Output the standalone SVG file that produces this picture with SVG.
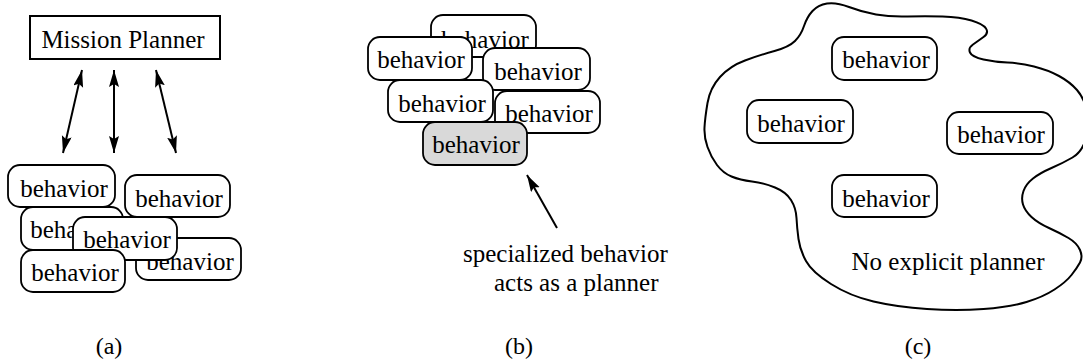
<svg xmlns="http://www.w3.org/2000/svg" width="1083" height="362" viewBox="0 0 1083 362" font-family="'Liberation Serif', 'DejaVu Serif', serif">
<style>
.b{fill:#fff;stroke:#000;stroke-width:1.8}
.g{fill:#d9d9d9;stroke:#000;stroke-width:1.8}
text{font-family:'Liberation Serif','DejaVu Serif',serif}
.t{font-size:25px;fill:#000;text-anchor:middle}
.s{font-size:25px;fill:#000;text-anchor:start}
.l{font-size:24px;fill:#000;text-anchor:middle}
.c{stroke:#000;stroke-width:2;fill:none}
</style>
<defs>
<marker id="ah" markerUnits="userSpaceOnUse" markerWidth="18" markerHeight="11" refX="17" refY="5" orient="auto-start-reverse">
<path d="M0,0 L17,5 L0,10 L3,5 z" fill="#000"/>
</marker>
</defs>
<rect width="1083" height="362" fill="#fff"/>

<g id="mission-planner">
<rect x="30" y="16" width="190" height="43" fill="#fff" stroke="#000" stroke-width="2"/>
<text class="t" x="123" y="48" font-family="Liberation Serif">Mission Planner</text>
</g>

<g id="connectors">
<line class="c" x1="82" y1="70" x2="63" y2="153" marker-start="url(#ah)" marker-end="url(#ah)"/>
<line class="c" x1="114" y1="70" x2="114" y2="153" marker-start="url(#ah)" marker-end="url(#ah)"/>
<line class="c" x1="156" y1="70" x2="176" y2="153" marker-start="url(#ah)" marker-end="url(#ah)"/>
<line class="c" x1="557" y1="228" x2="527" y2="175" marker-end="url(#ah)"/>
</g>

<g id="a-b5"><rect class="b" x="136" y="238" width="105" height="42" rx="12"/><text class="t" x="190" y="270">behavior</text></g>
<g id="a-b3"><rect class="b" x="21" y="207" width="102" height="43" rx="12"/><text class="t" x="74" y="238">behavior</text></g>
<g id="a-b1"><rect class="b" x="8" y="165" width="107" height="42" rx="12"/><text class="t" x="64" y="197">behavior</text></g>
<g id="a-b2"><rect class="b" x="125" y="175" width="105" height="42" rx="12"/><text class="t" x="179" y="207">behavior</text></g>
<g id="a-b4"><rect class="b" x="73" y="217" width="104" height="43" rx="12"/><text class="t" x="127" y="248">behavior</text></g>
<g id="a-b6"><rect class="b" x="21" y="250" width="104" height="42" rx="12"/><text class="t" x="75" y="281">behavior</text></g>

<g id="b-a"><rect class="b" x="431" y="15" width="105" height="42" rx="12"/><text class="t" x="485" y="48">behavior</text></g>
<g id="b-b"><rect class="b" x="368" y="37" width="104" height="43" rx="12"/><text class="t" x="421" y="68">behavior</text></g>
<g id="b-c"><rect class="b" x="483" y="48" width="107" height="42" rx="12"/><text class="t" x="538" y="80">behavior</text></g>
<g id="b-d"><rect class="b" x="388" y="80" width="105" height="42" rx="12"/><text class="t" x="442" y="112">behavior</text></g>
<g id="b-e"><rect class="b" x="495" y="91" width="105" height="42" rx="12"/><text class="t" x="549" y="122">behavior</text></g>
<g id="b-f"><rect class="g" x="423" y="122" width="104" height="43" rx="12"/><text class="t" x="476" y="153">behavior</text></g>

<g id="b-note">
<text class="s" x="463" y="262">specialized behavior</text>
<text class="s" x="494" y="291">acts as a planner</text>
</g>

<g id="c-blob">
<path d="M704.5,127.5 Q705,118 707.5,103 Q710,88 720,77 Q730,66 745,60.5 Q760,55 774.5,51 Q789,47 795,41 Q801,35 804,26 Q807,17 812.5,11 Q818,5 827,3.5 Q836,2 849,7 Q862,12 876,14.5 Q890,17 907.5,16.5 Q925,16 942.5,16.5 Q960,17 971.5,20.5 Q983,24 986,28.5 Q989,33 983.5,37 Q978,41 973,44.5 Q968,48 970,52.5 Q972,57 983.5,59.5 Q995,62 1007.5,62.5 Q1020,63 1034,66.5 Q1048,70 1059,76 Q1070,82 1077,90 Q1084,98 1087,111.5 Q1090,125 1086,138.5 Q1082,152 1072.5,157.5 Q1063,163 1051.5,168 Q1040,173 1033,178.5 Q1026,184 1023.5,191 Q1021,198 1023,204.5 Q1025,211 1031.5,217 Q1038,223 1049,228 Q1060,233 1068.5,238 Q1077,243 1080,250 Q1083,257 1080,262.5 Q1077,268 1071.5,275 Q1066,282 1054.5,289.5 Q1043,297 1026.5,302 Q1010,307 983.5,309 Q957,311 927,309 Q897,307 873.5,301.5 Q850,296 831,284 Q812,272 806,261 Q800,250 798.5,239 Q797,228 796.5,218 Q796,208 791,200 Q786,192 775,187.5 Q764,183 752,181.5 Q740,180 731.5,176.5 Q723,173 717,165 Q711,157 707.5,147 Q704,137 704.5,127.5 Z" fill="none" stroke="#000" stroke-width="2"/>
<text class="t" x="948" y="270">No explicit planner</text>
</g>

<g id="c-top"><rect class="b" x="832" y="37" width="105" height="43" rx="12"/><text class="t" x="886" y="68">behavior</text></g>
<g id="c-left"><rect class="b" x="747" y="100" width="106" height="43" rx="12"/><text class="t" x="801" y="132">behavior</text></g>
<g id="c-right"><rect class="b" x="947" y="112" width="106" height="42" rx="12"/><text class="t" x="1001" y="143">behavior</text></g>
<g id="c-bottom"><rect class="b" x="832" y="175" width="105" height="42" rx="12"/><text class="t" x="886" y="207">behavior</text></g>

<g id="labels">
<text class="l" x="109" y="354">(a)</text>
<text class="l" x="519" y="354">(b)</text>
<text class="l" x="918" y="354">(c)</text>
</g>
</svg>
